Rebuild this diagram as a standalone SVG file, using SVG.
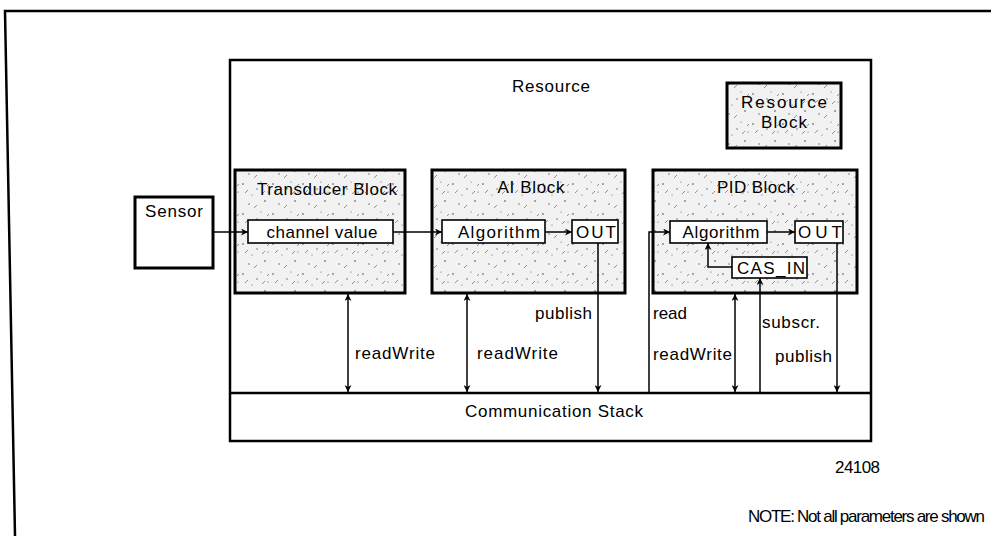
<svg xmlns="http://www.w3.org/2000/svg" width="991" height="536" viewBox="0 0 991 536">
<style>
  .t{font-family:"Liberation Sans",Arial,sans-serif;font-size:17px;fill:#000}
  .blk{fill:url(#stip);stroke:#000;stroke-width:3}
  .in{fill:#fff;stroke:#000;stroke-width:1.6}
  .frame{fill:none;stroke:#000;stroke-width:2.5}
  .c{fill:none;stroke:#000;stroke-width:1.5}
</style>
<defs>
  <pattern id="stip" width="30" height="30" patternUnits="userSpaceOnUse">
    <rect width="30" height="30" fill="#f2f2f2"/>
    <circle cx="3" cy="4" r="0.8" fill="#444"/>
    <circle cx="17" cy="9" r="0.7" fill="#555"/>
    <circle cx="25" cy="21" r="0.8" fill="#444"/>
    <circle cx="9" cy="24" r="0.7" fill="#555"/>
    <circle cx="21" cy="2" r="0.6" fill="#666"/>
    <circle cx="12" cy="15" r="0.6" fill="#666"/>
    <circle cx="28" cy="12" r="0.6" fill="#555"/>
    <path d="M5 13 l3 -3 M22 14 l3 -3 M14 28 l3 -3 M27 6 l2 -2" stroke="#777" stroke-width="0.8"/>
  </pattern>
  <marker id="ah" viewBox="0 0 10 10" refX="10" refY="5" markerWidth="7" markerHeight="7" orient="auto-start-reverse" markerUnits="userSpaceOnUse">
    <path d="M0 0 L10 5 L0 10 L3 5 Z" fill="#000"/>
  </marker>
</defs>
<rect width="991" height="536" fill="#fff"/>

<g id="frame">
  <path class="frame" d="M991 11 L5 11 L15 536"/>
</g>

<g id="resource">
  <rect class="frame" x="230" y="60" width="641" height="381"/>
  <text class="t" x="551" y="92" text-anchor="middle" textLength="78">Resource</text>
</g>

<g id="resource-block">
  <rect class="blk" x="727" y="83" width="114" height="65"/>
  <text class="t" x="784" y="108" text-anchor="middle" font-size="16" textLength="86">Resource</text>
  <text class="t" x="784" y="128" text-anchor="middle" font-size="16" textLength="46">Block</text>
</g>

<g id="sensor">
  <rect x="135" y="197" width="78" height="71" fill="#fff" stroke="#000" stroke-width="3"/>
  <text class="t" x="145" y="217" textLength="58">Sensor</text>
</g>

<g id="transducer-block">
  <rect class="blk" x="235" y="170" width="170" height="123"/>
  <text class="t" x="327" y="195" text-anchor="middle" textLength="140">Transducer Block</text>
  <g id="channel-value">
    <rect class="in" x="248" y="220" width="145" height="23"/>
    <text class="t" x="322" y="238" text-anchor="middle" textLength="111">channel value</text>
  </g>
</g>

<g id="ai-block">
  <rect class="blk" x="432" y="170" width="193" height="123"/>
  <text class="t" x="531" y="193" text-anchor="middle" textLength="67">AI Block</text>
  <g id="ai-algorithm">
    <rect class="in" x="442" y="220" width="103" height="23"/>
    <text class="t" x="499" y="238" text-anchor="middle" textLength="82">Algorithm</text>
  </g>
  <g id="ai-out">
    <rect class="in" x="572" y="220" width="46" height="23"/>
    <text class="t" x="596" y="238" text-anchor="middle" textLength="40">OUT</text>
  </g>
</g>

<g id="pid-block">
  <rect class="blk" x="653" y="170" width="204" height="123"/>
  <text class="t" x="756" y="193" text-anchor="middle" textLength="78">PID Block</text>
  <g id="pid-algorithm">
    <rect class="in" x="670" y="221" width="97" height="22"/>
    <text class="t" x="721" y="238" text-anchor="middle" textLength="77">Algorithm</text>
  </g>
  <g id="pid-out">
    <rect class="in" x="795" y="221" width="48" height="22"/>
    <text class="t" x="820" y="238" text-anchor="middle" textLength="44">OUT</text>
  </g>
  <g id="cas-in">
    <rect class="in" x="732" y="257" width="75" height="21"/>
    <text class="t" x="771" y="274" text-anchor="middle" textLength="68">CAS_IN</text>
  </g>
</g>

<g id="communication-stack">
  <line x1="230" y1="393" x2="871" y2="393" stroke="#000" stroke-width="2.5"/>
  <text class="t" x="554" y="417" text-anchor="middle" textLength="178">Communication Stack</text>
</g>

<g id="connectors">
  <line class="c" x1="213" y1="232" x2="248" y2="232" marker-end="url(#ah)"/>
  <line class="c" x1="393" y1="232" x2="442" y2="232" marker-end="url(#ah)"/>
  <line class="c" x1="545" y1="232" x2="572" y2="232" marker-end="url(#ah)"/>
  <line class="c" x1="598" y1="243" x2="598" y2="392" marker-end="url(#ah)"/>
  <polyline class="c" points="649,393 649,232 670,232" marker-end="url(#ah)"/>
  <line class="c" x1="767" y1="232" x2="795" y2="232" marker-end="url(#ah)"/>
  <polyline class="c" points="732,267 708,267 708,243" marker-end="url(#ah)"/>
  <line class="c" x1="760" y1="393" x2="760" y2="278" marker-end="url(#ah)"/>
  <line class="c" x1="837" y1="243" x2="837" y2="392" marker-end="url(#ah)"/>
  <line class="c" x1="348" y1="294" x2="348" y2="392" marker-start="url(#ah)" marker-end="url(#ah)"/>
  <line class="c" x1="467" y1="294" x2="467" y2="392" marker-start="url(#ah)" marker-end="url(#ah)"/>
  <line class="c" x1="735" y1="294" x2="735" y2="392" marker-start="url(#ah)" marker-end="url(#ah)"/>
</g>

<g id="labels">
  <text class="t" x="535" y="319" textLength="57">publish</text>
  <text class="t" x="355" y="359" textLength="80">readWrite</text>
  <text class="t" x="477" y="359" textLength="81">readWrite</text>
  <text class="t" x="653" y="319" textLength="34">read</text>
  <text class="t" x="653" y="360" textLength="79">readWrite</text>
  <text class="t" x="762" y="328" textLength="58">subscr.</text>
  <text class="t" x="775" y="362" textLength="57">publish</text>
  <text class="t" x="835" y="473" font-size="13" textLength="45">24108</text>
  <text class="t" x="748" y="522" font-size="14" textLength="237">NOTE:  Not all parameters are shown</text>
</g>
</svg>
